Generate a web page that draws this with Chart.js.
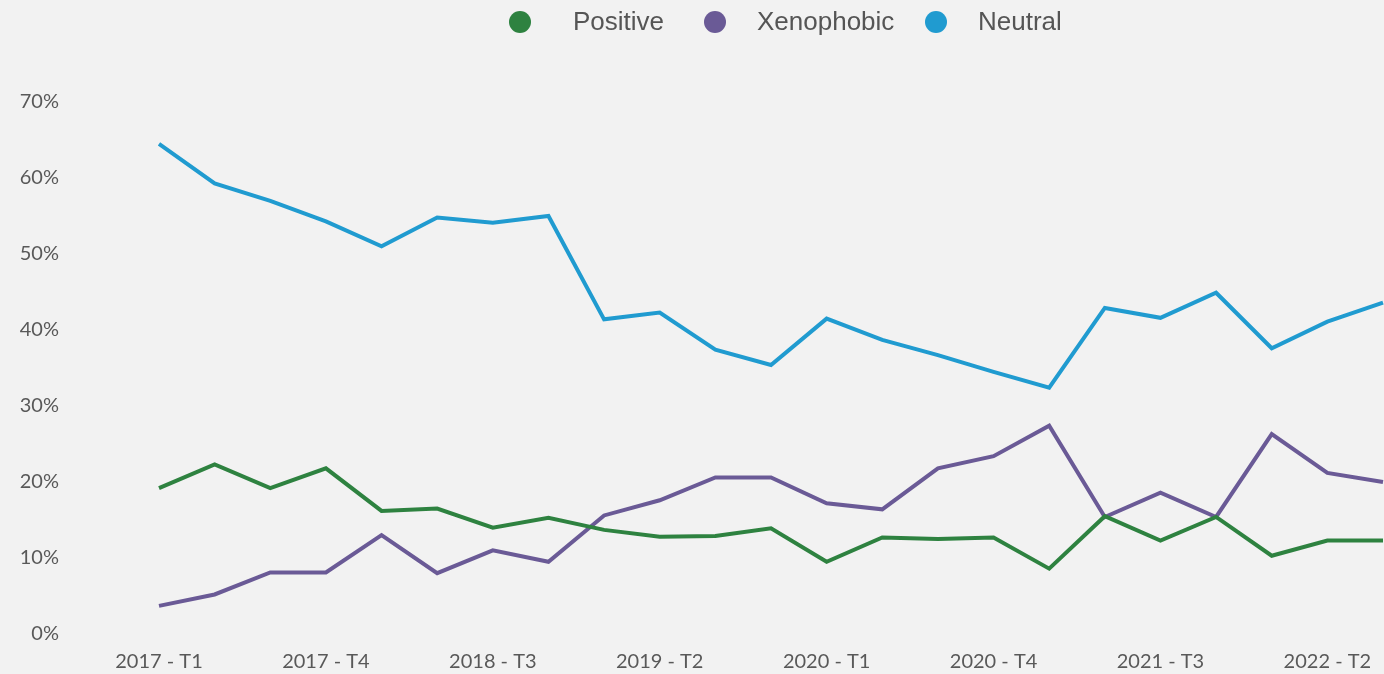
<!DOCTYPE html>
<html>
<head>
<meta charset="utf-8">
<script src="https://cdn.jsdelivr.net/npm/chart.js@4/dist/chart.umd.min.js"></script>
<style>
  html, body { margin: 0; padding: 0; background: #f2f2f2; overflow: hidden; }
  #wrap { position: relative; width: 1384px; height: 674px; }
</style>
</head>
<body>
<div id="wrap"><canvas id="c"></canvas></div>
<script>
// ---- data ----
const categories = [
  '2017 - T1','2017 - T2','2017 - T3','2017 - T4',
  '2018 - T1','2018 - T2','2018 - T3','2018 - T4',
  '2019 - T1','2019 - T2','2019 - T3','2019 - T4',
  '2020 - T1','2020 - T2','2020 - T3','2020 - T4',
  '2021 - T1','2021 - T2','2021 - T3','2021 - T4',
  '2022 - T1','2022 - T2','2022 - T3'
];
const positive   = [19.2, 22.3, 19.2, 21.8, 16.2, 16.5, 14.0, 15.3, 13.7, 12.8, 12.9, 13.9, 9.5, 12.7, 12.5, 12.7, 8.6, 15.5, 12.3, 15.4, 10.3, 12.3, 12.3];
const xenophobic = [3.7, 5.2, 8.1, 8.1, 13.0, 8.0, 11.0, 9.5, 15.6, 17.6, 20.6, 20.6, 17.2, 16.4, 21.8, 23.4, 27.4, 15.4, 18.6, 15.4, 26.3, 21.2, 20.0];
const neutral    = [64.5, 59.3, 57.0, 54.3, 51.0, 54.8, 54.1, 55.0, 41.4, 42.3, 37.4, 35.4, 41.5, 38.7, 36.7, 34.5, 32.4, 42.9, 41.6, 44.9, 37.6, 41.1, 43.6];
const seriesNames = ['Positive', 'Xenophobic', 'Neutral'];
const yTicks = [0, 10, 20, 30, 40, 50, 60, 70];

const colors = ['#2e8240', '#6a5a96', '#209bd0'];

// legend layout (px)
const legendCircleX = [520, 715, 936];
const legendTextX = [573, 757, 978];

const legendPlugin = {
  id: 'customLegend',
  afterDraw(chart) {
    const ctx = chart.ctx;
    ctx.save();
    ctx.font = '26px "Liberation Sans", Arial, sans-serif';
    ctx.textBaseline = 'middle';
    ctx.textAlign = 'left';
    const cy = 22;
    const r = 11;
    chart.data.datasets.forEach((ds, i) => {
      ctx.fillStyle = ds.borderColor;
      ctx.beginPath();
      ctx.arc(legendCircleX[i], cy, r, 0, Math.PI * 2);
      ctx.fill();
      ctx.fillStyle = '#555555';
      ctx.fillText(ds.label, legendTextX[i], cy + 1);
    });
    ctx.restore();
  }
};

const tickFont = { family: 'Lato', size: 20 };

new Chart(document.getElementById('c'), {
  type: 'line',
  data: {
    labels: categories,
    datasets: [
      { label: seriesNames[0], data: positive, borderColor: colors[0], backgroundColor: colors[0] },
      { label: seriesNames[1], data: xenophobic, borderColor: colors[1], backgroundColor: colors[1] },
      { label: seriesNames[2], data: neutral, borderColor: colors[2], backgroundColor: colors[2] }
    ]
  },
  options: {
    responsive: true,
    maintainAspectRatio: false,
    devicePixelRatio: 1,
    animation: false,
    elements: {
      line: { borderWidth: 4, tension: 0, fill: false, borderJoinStyle: 'miter' },
      point: { radius: 0, hoverRadius: 0 }
    },
    layout: { padding: { top: 102, right: 1, left: 0, bottom: 0 } },
    plugins: { legend: { display: false }, tooltip: { enabled: false } },
    scales: {
      x: {
        offset: false,
        grid: { display: false, drawTicks: false },
        border: { display: false },
        ticks: {
          autoSkip: false, maxRotation: 0, minRotation: 0,
          font: tickFont, color: '#595959', padding: 16,
          callback: (v, i) => (i % 3 === 0 ? categories[i] : '')
        },
        afterFit(s) { s.height = 40; s.paddingLeft = 0; s.paddingRight = 0; }
      },
      y: {
        min: yTicks[0], max: yTicks[yTicks.length - 1],
        grid: { display: false, drawTicks: false },
        border: { display: false },
        ticks: {
          stepSize: 10,
          font: tickFont, color: '#595959', padding: 100,
          callback: (v) => v + '%'
        },
        afterFit(s) { s.width = 159; s.paddingTop = 0; s.paddingBottom = 0; }
      }
    }
  },
  plugins: [legendPlugin]
});
</script>
</body>
</html>
